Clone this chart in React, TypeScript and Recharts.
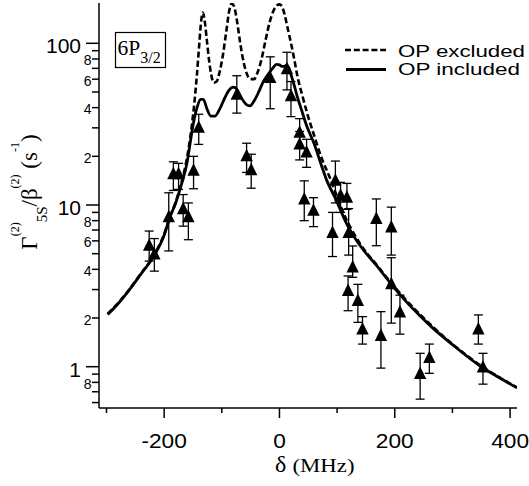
import { ComposedChart, Line, Scatter, ErrorBar, XAxis, YAxis, Legend } from 'recharts'

const SANS = '"Liberation Sans", Arial, Helvetica, sans-serif'
const SERIF = '"Liberation Serif", "Times New Roman", serif'

// OP excluded (dashed) curve
const excludedX = [
  -298, -280, -260, -240, -220, -200, -190, -180, -170, -163, -157, -152, -147, -143, -139, -136, -133, -130,
  -126, -122, -118, -114, -109, -104, -98, -92, -87, -83, -79, -74, -68, -62, -56, -50, -44, -38, -31, -24,
  -17, -10, -4, 0, 4, 9, 14, 19, 25, 31, 40, 50, 60, 72, 88, 111, 140, 170, 200, 250, 300, 350, 412,
]
const excludedY = [
  2.12, 2.47, 3.02, 3.78, 4.75, 6.6, 8.45, 10.4, 13.8, 17.5, 23, 31, 45, 65, 100, 135, 155, 140,
  105, 78, 63, 57, 58, 66, 85, 120, 160, 176, 170, 140, 100, 76, 64, 60, 60, 66, 80, 105,
  135, 160, 172, 174, 170, 150, 125, 104, 82, 63, 47, 35, 27, 20, 14.6, 8.9, 5.75, 4.2, 3.1, 2.0, 1.38, 1.01, 0.745,
]

// OP included (solid) curve
const includedX = [
  -298, -280, -260, -240, -220, -200, -190, -180, -170, -160, -155, -150, -143, -137, -132, -126, -119, -112,
  -104, -96, -88, -80, -74, -66, -58, -51, -44, -36, -28, -20, -12, -5, 0, 4, 8, 12, 16, 20, 25, 30, 38, 47,
  60, 73, 82, 97, 117, 140, 169, 192, 221, 244, 267, 300, 348, 380, 412,
]
const includedY = [
  2.1, 2.45, 3.0, 3.75, 4.7, 6.5, 8.4, 10.3, 13.4, 18.5, 24, 31, 40, 45, 45, 39.5, 35.5, 35.5,
  39, 45, 51, 53.5, 52, 46, 42, 41, 44, 50, 58, 64, 70, 74, 73.5, 72, 72, 73, 71, 64, 56, 48, 39, 31,
  24, 17.5, 14.2, 11, 7.6, 5.6, 4.2, 3.3, 2.5, 2.06, 1.72, 1.37, 1.01, 0.86, 0.74,
]

// measured points with error bars
const pointX = [
  -226, -217, -192, -184, -175, -167, -158, -149, -140, -74, -57, -49, -16, 13, 20, 35, 35, 43, 47, 59,
  92, 97, 106, 117, 119, 120, 127, 136, 144, 168, 176, 194, 194, 209, 244, 260, 345, 353,
]
const pointY = [
  5.6, 4.95, 8.4, 15.5, 15.5, 9.4, 8.4, 16.3, 30, 48, 20, 16.4, 61, 69, 47, 28, 23.7, 10.8, 21.1, 9.2,
  6.7, 14.1, 11.4, 11.1, 2.94, 6.7, 4.1, 2.55, 1.7, 8.2, 1.55, 7.25, 3.24, 2.16, 0.9, 1.13, 1.7, 0.99,
]
const pointLow = [
  4.5, 3.9, 5.2, 12.3, 12.5, 7.4, 6.1, 12.6, 23.7, 37, 15.9, 12.7, 39.4, 51.5, 35.2, 22.6, 19, 8, 17.1, 7.35,
  4.8, 10.3, 9, 9.4, 2.22, 4.9, 3.57, 1.88, 1.38, 5.6, 0.98, 4.9, 1.86, 1.59, 0.63, 0.91, 1.38, 0.78,
]
const pointHigh = [
  6.9, 6.2, 11.9, 18.5, 18.1, 11.6, 10.3, 20, 36.4, 63, 24.1, 20.6, 82.5, 88, 58, 34.2, 28.5, 14.1, 25.5, 11.1,
  9, 18.7, 13.8, 13.6, 3.64, 9.5, 5.58, 3.23, 2.04, 10.9, 2.19, 9.7, 4.72, 2.77, 1.21, 1.38, 2.09, 1.21,
]

const xTicks = [-300, -200, -100, 0, 100, 200, 300, 400]
const xTickText = ['', '-200', '', '0', '', '200', '', '400']
const yTicks = [0.6, 0.7, 0.8, 0.9, 1, 2, 3, 4, 5, 6, 7, 8, 9, 10, 20, 30, 40, 50, 60, 70, 80, 90, 100]
const yTickText = ['', '', '8', '', '1', '2', '', '4', '', '6', '', '8', '', '10', '2', '', '4', '', '6', '', '8', '', '100']
const legendNames = ['OP excluded', 'OP included']

const excludedData = excludedX.map((x, i) => ({ x, y: excludedY[i] }))
const includedData = includedX.map((x, i) => ({ x, y: includedY[i] }))
const pointData = pointX.map((x, i) => ({
  x,
  y: pointY[i],
  err: [pointY[i] - pointLow[i], pointHigh[i] - pointY[i]],
}))

function XTick(props: any) {
  const { x, y, payload } = props
  const label = xTickText[xTicks.indexOf(payload.value)]
  return (
    <g>
      <line x1={x} x2={x} y1={y} y2={y + (label ? 10 : 5)} stroke="#000" strokeWidth={1.5} />
      {label && (
        <text transform={`translate(${x} ${y + 40}) scale(1.08 1)`} textAnchor="middle" fontSize={21} fontFamily={SANS} fill="#000">
          {label}
        </text>
      )}
    </g>
  )
}

function YTick(props: any) {
  const { x, y, payload } = props
  const label = yTickText[yTicks.indexOf(payload.value)]
  const big = label === '1' || label === '10' || label === '100'
  const len = big ? 13 : 7
  return (
    <g>
      <line x1={x - len} x2={x} y1={y} y2={y} stroke="#000" strokeWidth={1.5} />
      {label && (
        <text
          x={big ? x - 18 : x - 7.5}
          y={big ? y + 10 : y + 6.5}
          textAnchor="end"
          fontSize={big ? 21 : 14}
          fontFamily={SANS}
          fill="#000"
        >
          {label}
        </text>
      )}
    </g>
  )
}

function Triangle(props: any) {
  const { cx, cy } = props
  return <polygon points={`${cx},${cy - 7.5} ${cx + 6.2},${cy + 5} ${cx - 6.2},${cy + 5}`} fill="#000" />
}

function LegendBox() {
  return (
    <svg width={189} height={50}>
      <line x1={5} x2={46} y1={15} y2={15} stroke="#000" strokeWidth={2.5} strokeDasharray="6 2.8" />
      <line x1={6} x2={46} y1={34.5} y2={34.5} stroke="#000" strokeWidth={2.8} />
      <text x={58} y={21.5} fontSize={16.5} fontFamily={SANS} textLength={127} lengthAdjust="spacingAndGlyphs">
        {legendNames[0]}
      </text>
      <text x={58} y={40} fontSize={16.5} fontFamily={SANS} textLength={122} lengthAdjust="spacingAndGlyphs">
        {legendNames[1]}
      </text>
    </svg>
  )
}

export default function App() {
  return (
    <div style={{ position: 'absolute', left: 0, top: 0, width: 529, height: 486, background: '#fff' }}>
      <ComposedChart width={529} height={486} margin={{ top: 3, right: 12, left: 0, bottom: 0 }}>
        <XAxis
          type="number"
          dataKey="x"
          domain={[-313, 412]}
          ticks={xTicks}
          interval={0}
          allowDataOverflow
          height={78}
          tickSize={0}
          tickMargin={0}
          tickLine={false}
          axisLine={{ stroke: '#000', strokeWidth: 1.5 }}
          tick={XTick}
        />
        <YAxis
          type="number"
          dataKey="y"
          scale="log"
          domain={[0.5554, 177.5]}
          ticks={yTicks}
          interval={0}
          allowDataOverflow
          width={99}
          tickSize={0}
          tickMargin={0}
          tickLine={false}
          axisLine={{ stroke: '#000', strokeWidth: 1.5 }}
          tick={YTick}
        />
        <Legend
          layout="horizontal"
          align="center"
          verticalAlign="middle"
          wrapperStyle={{ position: 'absolute', left: 340, top: 35, width: 189, height: 50 }}
          content={() => <LegendBox />}
        />
        <Line
          data={excludedData}
          dataKey="y"
          type="monotone"
          stroke="#000"
          strokeWidth={2.6}
          strokeDasharray="6 3"
          dot={false}
          activeDot={false}
          isAnimationActive={false}
        />
        <Line
          data={includedData}
          dataKey="y"
          type="monotone"
          stroke="#000"
          strokeWidth={2.8}
          dot={false}
          activeDot={false}
          isAnimationActive={false}
        />
        <Scatter data={pointData} dataKey="y" shape={Triangle} isAnimationActive={false}>
          <ErrorBar dataKey="err" direction="y" width={4.5} stroke="#000" strokeWidth={1.3} isAnimationActive={false} />
        </Scatter>
      </ComposedChart>
      <svg width={529} height={486} style={{ position: 'absolute', left: 0, top: 0, pointerEvents: 'none' }}>
        <rect x={115.5} y={32.5} width={50} height={35} fill="#fff" stroke="#000" strokeWidth={1.2} />
        <text x={117.5} y={55} fontFamily={SERIF} fontSize={21.5}>
          6P<tspan fontSize={16} dy={8}>3/2</tspan>
        </text>
        <text transform="translate(37 192) rotate(-90)" textAnchor="middle" fontFamily={SERIF} fontSize={23}>
          <tspan>Γ</tspan>
          <tspan fontSize={12} dy={-18}>(2)</tspan>
          <tspan fontSize={15} dy={28}>5S</tspan>
          <tspan dy={-10}>/β</tspan>
          <tspan fontSize={12} dy={-18}>(2)</tspan>
          <tspan dy={18}> (s</tspan>
          <tspan fontSize={12} dy={-18}>-1</tspan>
          <tspan dy={18}>)</tspan>
        </text>
        <text x={275} y={472} fontFamily={SERIF} fontSize={24}>
          δ
        </text>
        <text x={292.5} y={472} fontFamily={SERIF} fontSize={18} textLength={62} lengthAdjust="spacingAndGlyphs">
          (MHz)
        </text>
      </svg>
    </div>
  )
}
